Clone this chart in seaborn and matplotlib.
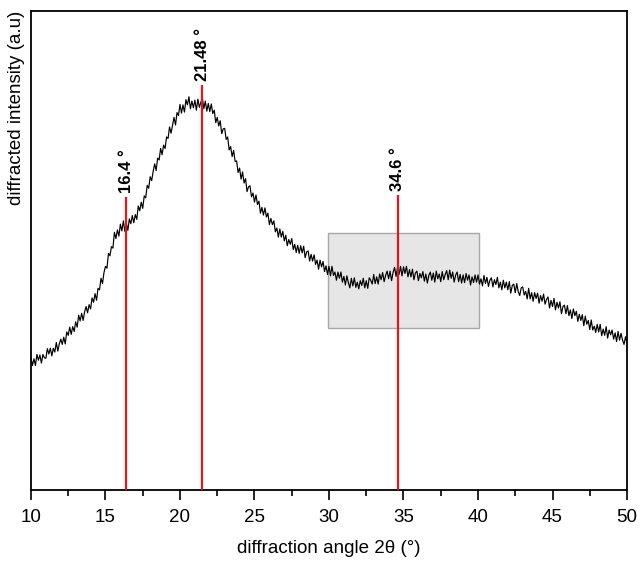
import numpy as np
import pandas as pd
import matplotlib
matplotlib.use("Agg")
import matplotlib.pyplot as plt
import seaborn as sns
from matplotlib.patches import Rectangle

# scan from 10 to 50 deg, step 0.1 deg
angle_start = 10.0
angle_step = 0.1

# intensity (a.u.), one row per degree
intensity = [
    27.6, 26.0, 27.4, 26.0, 28.3, 27.1, 28.2, 26.5, 28.3, 27.6,
    27.5, 29.5, 28.4, 29.6, 28.0, 29.6, 28.8, 30.8, 29.0, 30.5,
    31.5, 30.4, 31.9, 30.5, 33.0, 32.3, 34.0, 32.5, 34.1, 33.1,
    35.1, 34.0, 36.5, 35.3, 36.9, 35.4, 37.2, 38.3, 37.0, 38.7,
    37.8, 40.1, 39.2, 41.0, 39.6, 42.1, 41.8, 44.2, 43.1, 45.4,
    46.7, 46.3, 49.4, 48.9, 50.8, 50.5, 53.8, 52.5, 54.3, 53.0,
    55.5, 54.1, 56.2, 54.0, 55.7, 54.2, 56.6, 55.6, 57.3, 55.8,
    57.5, 56.5, 59.3, 58.3, 60.1, 58.8, 61.4, 61.0, 63.6, 63.0,
    65.4, 64.6, 66.5, 68.1, 66.7, 69.3, 68.9, 71.3, 70.0, 72.0,
    71.3, 73.7, 73.4, 75.8, 74.5, 76.2, 77.8, 76.2, 78.8, 78.2,
    80.5, 78.7, 80.4, 78.9, 81.5, 80.4, 82.1, 79.6, 81.2, 79.8,
    81.4, 79.3, 81.6, 79.9, 80.9, 81.9, 79.6, 81.2, 79.1, 80.7,
    79.0, 80.6, 78.6, 79.3, 76.7, 77.8, 76.0, 77.1, 74.4, 75.4,
    75.5, 73.2, 73.7, 71.0, 71.7, 69.6, 70.9, 68.6, 68.7, 66.3,
    67.2, 64.9, 66.4, 64.1, 65.0, 62.3, 63.3, 63.5, 61.2, 62.0,
    60.1, 61.6, 59.6, 60.3, 57.8, 59.0, 57.4, 58.9, 57.0, 57.8,
    55.4, 56.7, 55.4, 56.2, 53.9, 54.7, 52.8, 54.5, 52.8, 54.0,
    52.0, 53.2, 51.0, 52.3, 51.3, 52.5, 50.2, 51.3, 49.6, 51.1,
    49.4, 51.0, 49.5, 50.9, 48.5, 49.7, 49.9, 47.8, 49.2, 47.8,
    49.1, 47.1, 48.0, 46.1, 48.0, 46.6, 47.7, 45.6, 46.8, 45.0,
    46.7, 44.7, 46.7, 44.8, 45.5, 43.8, 45.5, 44.2, 45.5, 43.4,
    44.6, 42.8, 44.7, 43.3, 42.2, 44.2, 42.6, 44.3, 42.3, 43.4,
    42.0, 43.7, 42.7, 44.2, 42.2, 43.7, 42.1, 44.3, 43.8, 43.0,
    45.0, 43.1, 44.5, 43.0, 45.1, 43.9, 45.4, 43.5, 44.8, 45.7,
    44.1, 45.7, 43.7, 45.4, 46.5, 44.6, 46.5, 45.0, 46.7, 44.7,
    46.6, 45.2, 46.7, 44.5, 46.0, 44.5, 46.1, 43.9, 45.3, 45.7,
    43.7, 45.2, 44.3, 45.6, 43.6, 45.1, 43.2, 44.8, 45.5, 43.8,
    45.3, 43.4, 45.7, 44.1, 45.1, 43.5, 45.6, 43.9, 45.0, 45.8,
    43.9, 45.9, 44.2, 45.5, 43.4, 44.9, 45.5, 43.5, 45.0, 43.2,
    44.9, 43.3, 45.2, 43.8, 44.9, 42.8, 44.5, 43.3, 44.9, 43.4,
    44.9, 43.0, 44.1, 42.6, 44.8, 43.1, 44.4, 42.5, 43.8, 44.3,
    42.4, 43.9, 42.9, 44.4, 42.2, 43.4, 41.8, 43.8, 42.2, 43.4,
    41.8, 43.5, 41.1, 42.7, 43.0, 41.2, 43.1, 41.4, 40.6, 42.2,
    42.4, 40.7, 41.5, 39.9, 42.1, 39.9, 41.2, 39.4, 41.2, 40.0,
    41.1, 39.0, 40.6, 39.4, 40.9, 38.8, 39.8, 40.3, 38.0, 39.6,
    38.3, 40.0, 37.6, 39.2, 38.0, 39.3, 36.8, 38.3, 38.6, 36.8,
    38.5, 36.4, 37.6, 35.8, 37.8, 36.4, 37.3, 35.2, 36.7, 35.4,
    36.6, 34.3, 36.3, 34.6, 35.4, 33.5, 35.5, 33.4, 34.2, 32.9,
    34.6, 33.0, 34.6, 32.2, 33.6, 32.3, 34.1, 31.7, 33.4, 32.4,
    33.4, 31.5, 32.8, 31.0, 33.1, 31.3, 32.7, 31.3, 30.4, 32.0,
    30.6,
]

# marked peaks
peak_pos = [16.4, 21.48, 34.6]
peak_top = [61.2, 84.6, 61.6]
peak_labels = ["16.4 °", "21.48 °", "34.6 °"]

# shaded region
box_x = [29.9, 40.05]
box_y = [33.8, 53.7]

angles = np.round(angle_start + angle_step * np.arange(len(intensity)), 2)
df = pd.DataFrame({"angle": angles, "intensity": intensity})

sns.set_style("white")
plt.rcParams["font.family"] = ["Liberation Sans", "DejaVu Sans"]
plt.rcParams["text.color"] = "black"
plt.rcParams["axes.labelcolor"] = "black"
plt.rcParams["xtick.color"] = "black"

fig = plt.figure(figsize=(6.4, 5.62), dpi=100)
ax = fig.add_axes([0.0484, 0.1281, 0.9313, 0.8523])

ax.add_patch(Rectangle((box_x[0], box_y[0]), box_x[1] - box_x[0], box_y[1] - box_y[0],
                       facecolor="#e6e6e6", edgecolor="#a8a8a8", lw=1.0, zorder=1))

sns.lineplot(data=df, x="angle", y="intensity", color="black", lw=0.85, ax=ax, zorder=3)

ax.vlines(peak_pos, 0, peak_top, color="#e8141c", lw=1.6, zorder=4)
for xp, yt, lab in zip(peak_pos, peak_top, peak_labels):
    ax.annotate(lab, (xp, yt), xytext=(0, 3), textcoords="offset points",
                rotation=90, ha="center", va="bottom", fontsize=12, fontweight="bold")

ax.set_xlim(10, 50)
ax.set_ylim(0, 100)
ax.set_xticks(range(10, 51, 5))
ax.set_xticks(np.arange(12.5, 50, 5), minor=True)
ax.set_yticks([])
ax.tick_params(axis="x", which="major", direction="out", length=7, width=1.2,
               labelsize=13.5, pad=7, bottom=True)
ax.tick_params(axis="x", which="minor", direction="out", length=4, width=1.2, bottom=True)

for s in ax.spines.values():
    s.set_linewidth(1.3)
    s.set_color("black")

ax.set_xlabel("diffraction angle 2θ (°)", fontsize=13.5, labelpad=10)
ax.set_ylabel("diffracted intensity (a.u)", fontsize=13.5, loc="top", labelpad=4)

fig.savefig("out.png", dpi=100)
